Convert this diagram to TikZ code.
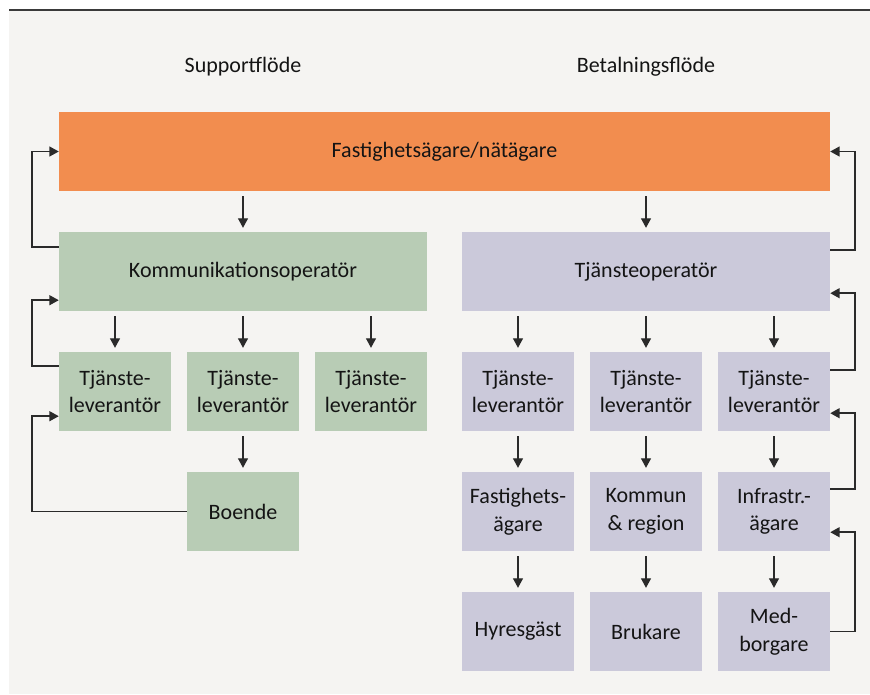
\documentclass[tikz,border=0pt]{standalone}
\usepackage{fontspec}
\setmainfont{Carlito}
\usetikzlibrary{arrows.meta}
\definecolor{paper}{HTML}{F5F4F2}
\definecolor{rulecol}{HTML}{3A3A3A}
\definecolor{owner}{HTML}{F28D4F}
\definecolor{support}{HTML}{B8CCB5}
\definecolor{payment}{HTML}{CBC9DA}
\definecolor{ink}{HTML}{141414}
\definecolor{wire}{HTML}{2A2A2A}
\begin{document}
\begin{tikzpicture}[x=1pt,y=-1pt,
  label/.style={font=\fontsize{22}{27.5}\selectfont, text=ink, inner sep=0pt},
  box/.style={label, minimum height=79pt, align=center},
  wide/.style={box, minimum width=368pt},
  small/.style={box, minimum width=112pt},
  down/.style={-{Triangle[length=9.5pt,width=10pt]}, line width=1.3pt, draw=wire,
               shorten <=5pt, shorten >=4pt},
  back/.style={-{Triangle[length=9.5pt,width=10pt]}, line width=1.5pt, draw=wire}]

  \useasboundingbox (0,0) rectangle (870,694);
  \fill[paper] (9,10) rectangle (870,694);
  \draw[rulecol, line width=1.6pt] (9,10) -- (870,10);

  % column headings
  \node[label] (hsupport) at (243,67) {Supportflöde};
  \node[label] (hpay) at (646,67) {Betalningsflöde};

  % top level
  \node[box, fill=owner, minimum width=771pt] (top) at (444.5,151.5) {Fastighetsägare/nätägare};

  % operators
  \node[wide, fill=support] (ko) at (243,271.5) {Kommunikationsoperatör};
  \node[wide, fill=payment] (to) at (646,271.5) {Tjänsteoperatör};

  % service providers
  \node[small, fill=support] (g1) at (115,391.5) {Tjänste-\\leverantör};
  \node[small, fill=support] (g2) at (243,391.5) {Tjänste-\\leverantör};
  \node[small, fill=support] (g3) at (371,391.5) {Tjänste-\\leverantör};
  \node[small, fill=payment] (p1) at (518,391.5) {Tjänste-\\leverantör};
  \node[small, fill=payment] (p2) at (646,391.5) {Tjänste-\\leverantör};
  \node[small, fill=payment] (p3) at (774,391.5) {Tjänste-\\leverantör};

  % third row
  \node[small, fill=support] (boende) at (243,511.5) {Boende};
  \node[small, fill=payment] (p4) at (518,511.5) {Fastighets-\\ägare};
  \node[small, fill=payment] (p5) at (646,511.5) {Kommun\\\& region};
  \node[small, fill=payment] (p6) at (774,511.5) {Infrastr.-\\ägare};

  % bottom row
  \node[small, fill=payment] (p7) at (518,631.5) {Hyresgäst};
  \node[small, fill=payment] (p8) at (646,631.5) {Brukare};
  \node[small, fill=payment] (p9) at (774,631.5) {Med-\\borgare};

  % downward flow
  \draw[down] (top.south -| ko.north) -- (ko.north);
  \draw[down] (top.south -| to.north) -- (to.north);
  \foreach \c in {g1,g2,g3} \draw[down] (ko.south -| \c.north) -- (\c.north);
  \foreach \c in {p1,p2,p3} \draw[down] (to.south -| \c.north) -- (\c.north);
  \draw[down] (g2.south) -- (boende.north);
  \draw[down] (p1.south) -- (p4.north);
  \draw[down] (p2.south) -- (p5.north);
  \draw[down] (p3.south) -- (p6.north);
  \draw[down] (p4.south) -- (p7.north);
  \draw[down] (p5.south) -- (p8.north);
  \draw[down] (p6.south) -- (p9.north);

  % support feedback (left)
  \draw[back] ([yshift=-15pt]ko.north west) -- ++(-27,0) |- (top.west);
  \draw[back] ([yshift=-14pt]g1.north west) -- ++(-27,0) |- ([yshift=11pt]ko.south west);
  \draw[back] (boende.west) -- ++(-155,0) |- ([yshift=15pt]g1.south west);

  % payment feedback (right)
  \draw[back] ([yshift=-18pt]to.north east) -- ++(25,0) |- (top.east);
  \draw[back] ([yshift=-18pt]p3.north east) -- ++(25,0) |- ([yshift=18pt]to.south east);
  \draw[back] ([yshift=-17pt]p6.north east) -- ++(25,0) |- ([yshift=18pt]p3.south east);
  \draw[back] (p9.east) -- ++(25,0) |- ([yshift=19pt]p6.south east);
\end{tikzpicture}
\end{document}
